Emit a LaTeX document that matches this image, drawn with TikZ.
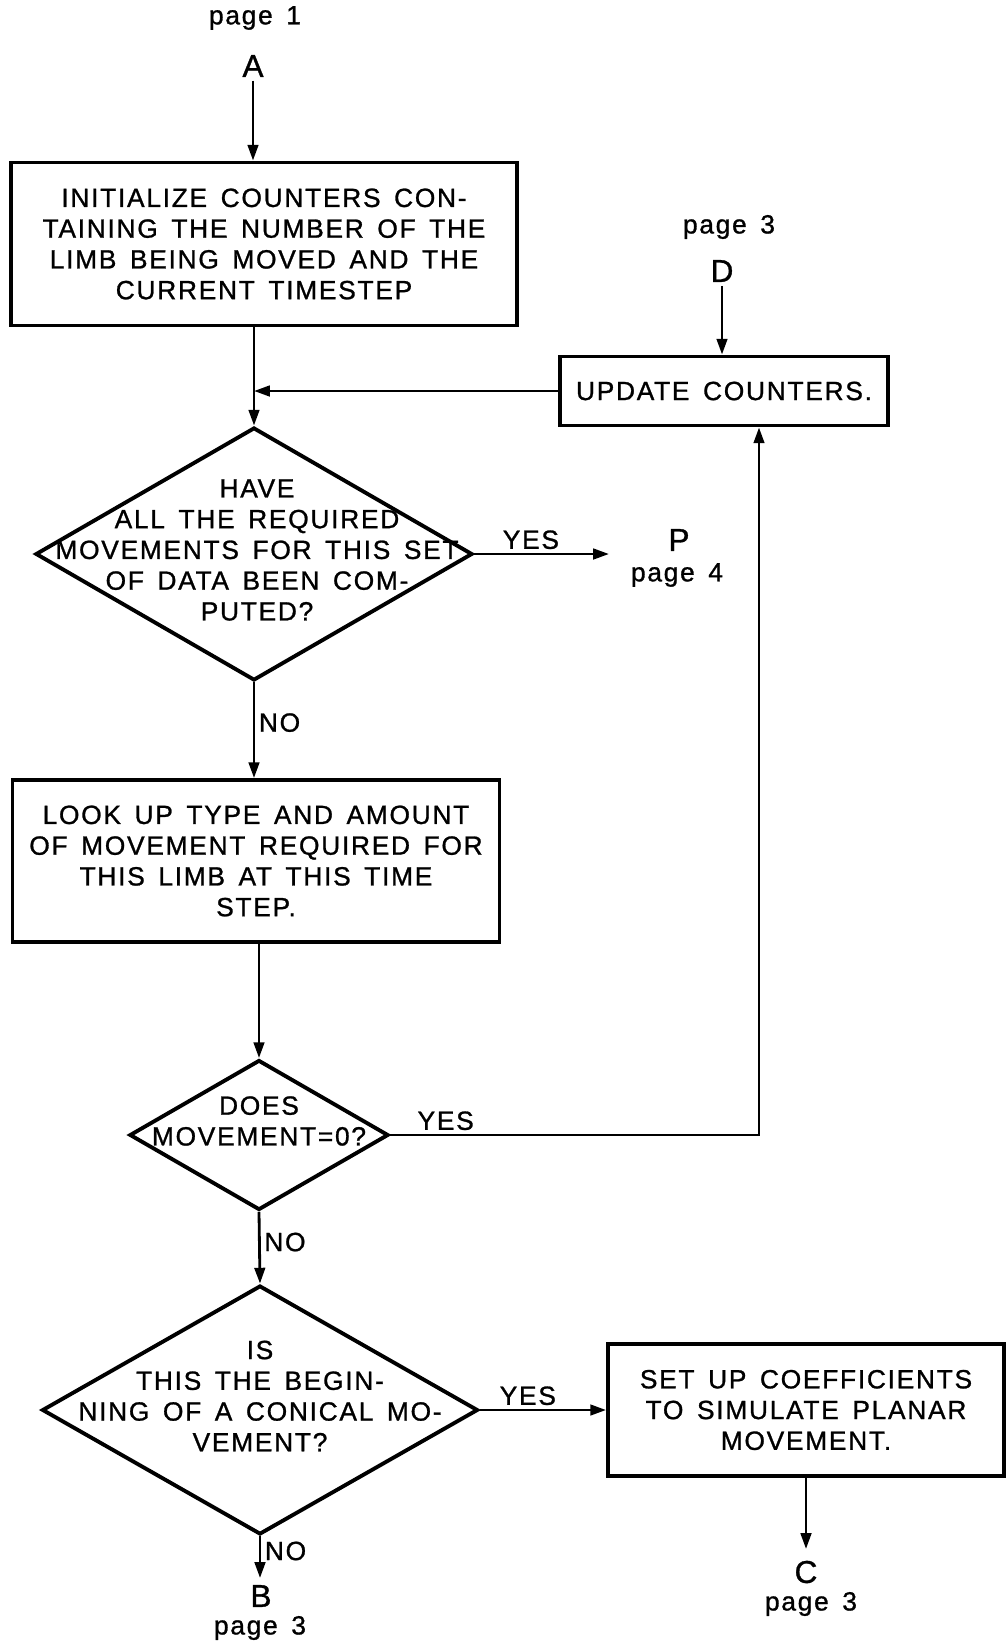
\documentclass[tikz,border=0pt]{standalone}
\usepackage{fontspec}
\setmainfont{Liberation Sans}[LetterSpace=6.5, WordSpace=1.5, FakeBold=1]
\usetikzlibrary{positioning,arrows.meta,shapes.geometric}
\newcommand{\lettering}{\fontsize{15}{17.5}\selectfont}

\begin{document}
\begin{tikzpicture}[x=0.02cm, y=-0.02cm,
  proc/.style={draw, line width=2.2pt, inner sep=0pt, align=center, font=\lettering},
  dec/.style={draw, diamond, line width=2.2pt, inner sep=0pt},
  txt/.style={align=center, inner sep=0pt, font=\lettering},
  flow/.style={-{Triangle[length=9pt,width=6pt]}, line width=1.6pt},
  lab/.style={font=\lettering, inner sep=2pt},
  conn/.style={font=\fontsize{18}{20}\selectfont, inner sep=2pt}]
\useasboundingbox (0,0) rectangle (1006,1647);
% off-page connectors
\node[lab] (pg1) at (255,18) {page 1};
\node[conn] (A) at (253,66) {A};
\node[lab] (pg3d) at (729,227) {page 3};
\node[conn] (D) at (722,271) {D};
% boxes and decisions
\node[proc, minimum width=10.12cm, minimum height=3.26cm] (init) at (264,244)
  {INITIALIZE COUNTERS CON-\\TAINING THE NUMBER OF THE\\LIMB BEING MOVED AND THE\\CURRENT TIMESTEP};
\node[proc, minimum width=6.56cm, minimum height=1.38cm] (upd) at (724,391) {UPDATE COUNTERS.};
\node[dec, minimum width=8.74cm, minimum height=5.06cm] (alldone) at (254,554) {};
\node[txt] (alldonetxt) at (257,550)
  {HAVE\\ALL THE REQUIRED\\MOVEMENTS FOR THIS SET\\OF DATA BEEN COM-\\PUTED?};
\node[conn] (P) at (679,540) {P};
\node[lab] (pg4) at (677,575) {page 4};
\node[proc, minimum width=9.74cm, minimum height=3.24cm] (lookup) at (256,861)
  {LOOK UP TYPE AND AMOUNT\\OF MOVEMENT REQUIRED FOR\\THIS LIMB AT THIS TIME\\STEP.};
\node[dec, minimum width=5.18cm, minimum height=3.0cm] (zero) at (259,1135) {};
\node[txt] (zerotxt) at (259,1121) {DOES\\MOVEMENT=0?};
\node[dec, minimum width=8.72cm, minimum height=4.98cm] (conic) at (260,1410) {};
\node[txt] (conictxt) at (260,1396)
  {IS\\THIS THE BEGIN-\\NING OF A CONICAL MO-\\VEMENT?};
\node[proc, minimum width=7.92cm, minimum height=2.64cm] (coef) at (806,1410)
  {SET UP COEFFICIENTS\\TO SIMULATE PLANAR\\MOVEMENT.};
\node[conn] (B) at (261,1596) {B};
\node[lab] (pg3b) at (260,1628) {page 3};
\node[conn] (C) at (806,1572) {C};
\node[lab] (pg3c) at (811,1604) {page 3};
\coordinate (toP) at (609,554);
\coordinate (ret) at (759,1135);
\coordinate (toB) at (260,1578);
\coordinate (toC) at (806,1549);
\coordinate (join) at (alldone.north |- upd.west);
% connectors
\draw[flow] (A) -- (A |- init.north);
\draw[flow] (D) -- (D |- upd.north);
\draw[flow] (alldone.north |- init.south) -- (alldone.north);
\draw[flow] (upd.west) -- (join);
\draw[flow] (alldone.east) -- node[lab, above, pos=0.42] {YES} (toP);
\draw[flow] (alldone.south) -- node[lab, right, pos=0.42] {NO} (alldone.south |- lookup.north);
\draw[flow] (zero.north |- lookup.south) -- (zero.north);
\draw[flow] (zero.east) -- node[lab, above, pos=0.15] {YES} (ret) -- (ret |- upd.south);
\draw[flow] (zero.south) -- node[lab, right, pos=0.42] {NO} (conic.north);
\draw[flow] (conic.east) -- node[lab, above, pos=0.38] {YES} (coef.west);
\draw[flow] (conic.south) -- node[lab, right, pos=0.35] {NO} (toB);
\draw[flow] (coef.south) -- (toC);
\end{tikzpicture}
\end{document}
